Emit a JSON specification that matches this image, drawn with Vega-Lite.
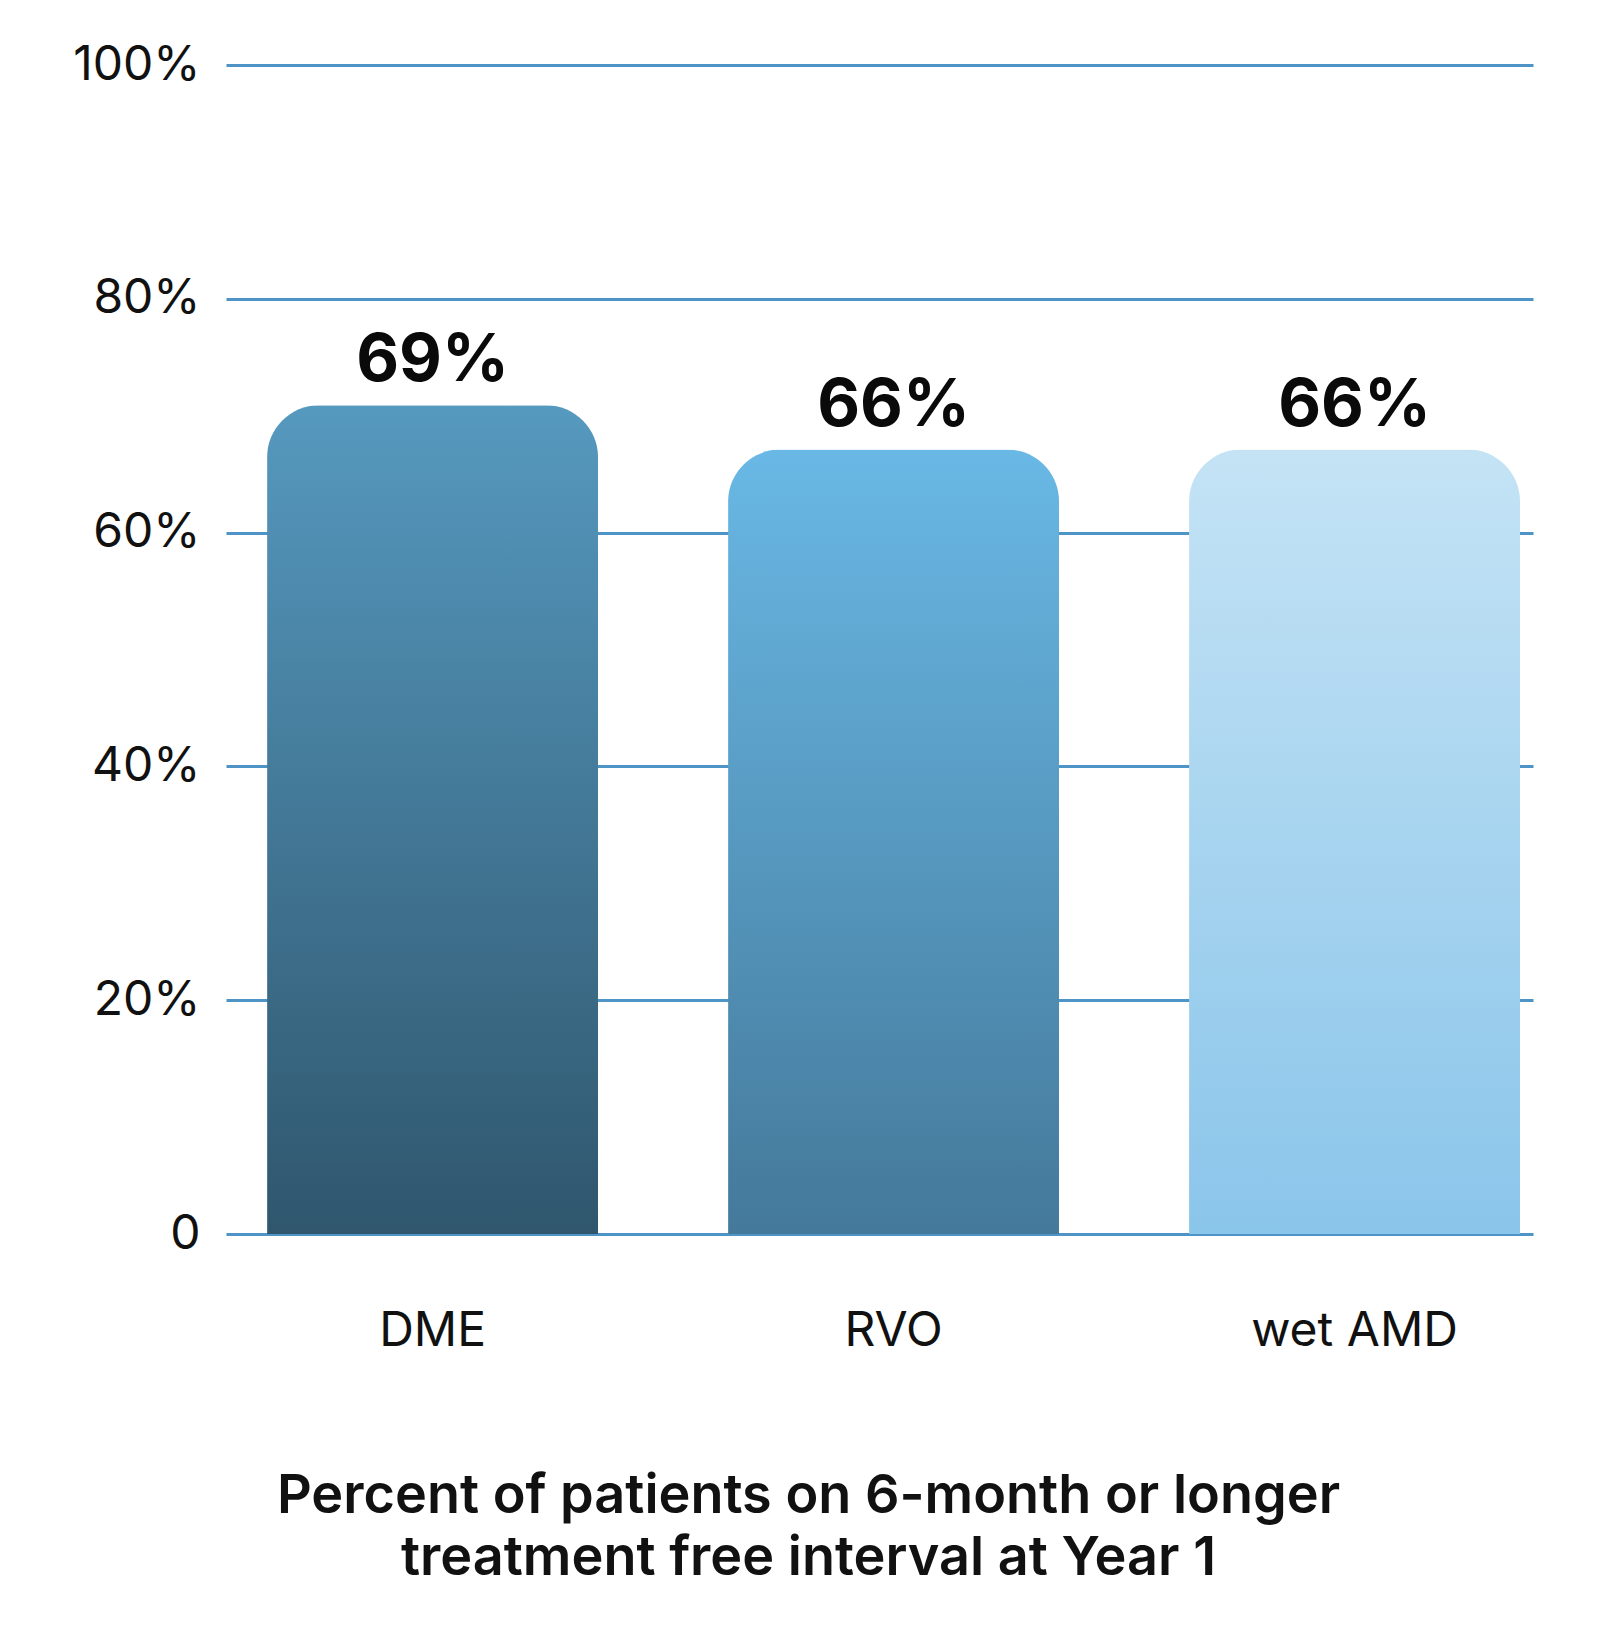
{
  "$schema": "https://vega.github.io/schema/vega-lite/v6.json",
  "width": 1307,
  "height": 1169,
  "autosize": "none",
  "padding": {"left": 226, "top": 65, "right": 78, "bottom": 396},
  "background": "white",
  "config": {"view": {"stroke": null}, "font": "Inter"},
  "data": {
    "values": [
      {"cat": "DME", "value": 70.9, "label": "69%"},
      {"cat": "RVO", "value": 67.1, "label": "66%"},
      {"cat": "wet AMD", "value": 67.1, "label": "66%"}
    ]
  },
  "encoding": {
    "x": {
      "field": "cat",
      "type": "nominal",
      "sort": null,
      "scale": {"paddingInner": 0.282, "paddingOuter": 0.0586, "align": 0.76},
      "axis": {
        "domain": false,
        "ticks": false,
        "labelAngle": 0,
        "labelLimit": 0,
        "labelFont": "Inter",
        "labelFontSize": 48,
        "labelColor": "#111111",
        "labelBaseline": "alphabetic",
        "labelPadding": 111,
        "title": ["Percent of patients on 6-month or longer", "treatment  free interval at Year 1"],
        "titleFont": "Inter",
        "titleFontSize": 54,
        "titleFontWeight": 600,
        "titleColor": "#111111",
        "titleX": 582,
        "titleY": 278,
        "titleAlign": "center",
        "titleBaseline": "alphabetic",
        "titleLineHeight": 62,
        "titleLimit": 0
      }
    },
    "y": {
      "field": "value",
      "type": "quantitative",
      "scale": {"domain": [0, 100], "nice": false},
      "axis": {
        "values": [0, 20, 40, 60, 80, 100],
        "labelExpr": "datum.value == 0 ? '0' : datum.value + '%'",
        "domain": false,
        "ticks": false,
        "labelPadding": 26,
        "labelFont": "Inter",
        "labelFontSize": 48,
        "labelColor": "#111111",
        "gridColor": "#4f94c6",
        "gridWidth": 3,
        "gridOpacity": 1,
        "title": null
      }
    }
  },
  "layer": [
    {
      "transform": [{"filter": "datum.cat == 'DME'"}],
      "mark": {
        "type": "bar",
        "cornerRadiusTopLeft": 52,
        "cornerRadiusTopRight": 52,
        "color": {
          "gradient": "linear", "x1": 0, "y1": 0, "x2": 0, "y2": 1,
          "stops": [{"offset": 0, "color": "#5699bf"}, {"offset": 1, "color": "#2f566d"}]
        }
      }
    },
    {
      "transform": [{"filter": "datum.cat == 'RVO'"}],
      "mark": {
        "type": "bar",
        "cornerRadiusTopLeft": 52,
        "cornerRadiusTopRight": 52,
        "color": {
          "gradient": "linear", "x1": 0, "y1": 0, "x2": 0, "y2": 1,
          "stops": [{"offset": 0, "color": "#69b8e5"}, {"offset": 1, "color": "#44799a"}]
        }
      }
    },
    {
      "transform": [{"filter": "datum.cat == 'wet AMD'"}],
      "mark": {
        "type": "bar",
        "cornerRadiusTopLeft": 52,
        "cornerRadiusTopRight": 52,
        "color": {
          "gradient": "linear", "x1": 0, "y1": 0, "x2": 0, "y2": 1,
          "stops": [{"offset": 0, "color": "#c4e3f5"}, {"offset": 1, "color": "#8ac5ea"}]
        }
      }
    },
    {
      "mark": {
        "type": "text",
        "baseline": "alphabetic",
        "dy": -24,
        "font": "Inter",
        "fontSize": 66,
        "fontWeight": "bold",
        "color": "#0a0a0a"
      },
      "encoding": {"text": {"field": "label"}}
    }
  ]
}
